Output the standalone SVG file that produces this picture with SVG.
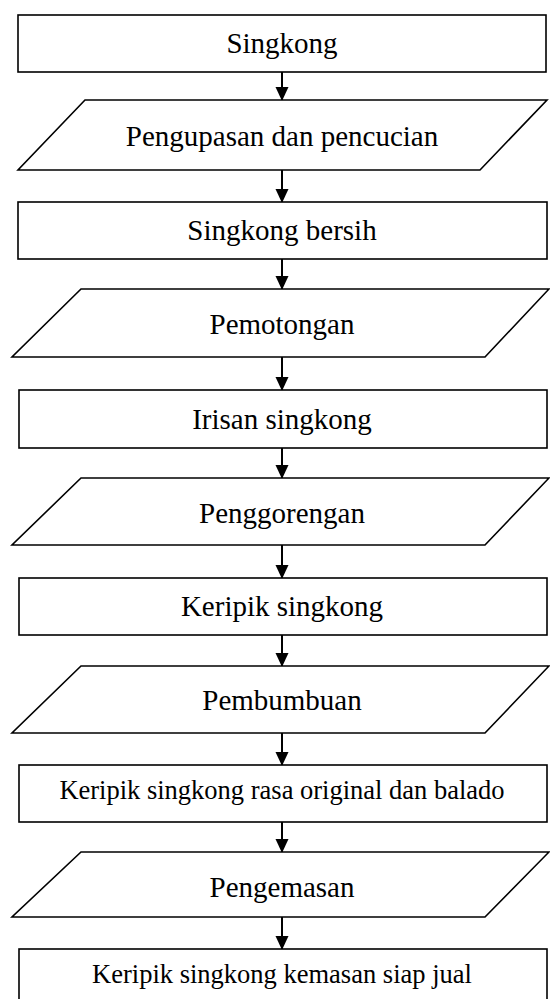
<svg xmlns="http://www.w3.org/2000/svg" width="550" height="999" viewBox="0 0 550 999">
<style>
.box{fill:#fff;stroke:#000;stroke-width:1.6}
.t{font-family:"Liberation Serif","Times New Roman",serif;font-size:29px;fill:#000;text-anchor:middle}
.s{font-size:26.5px}
.c{stroke:#000;stroke-width:2;fill:none}
</style>
<defs>
<marker id="ah" markerWidth="14" markerHeight="15" refX="14" refY="7" orient="auto" markerUnits="userSpaceOnUse" viewBox="0 0 15 14">
<path d="M0,0 L15,7 L0,14 Z" fill="#000"/>
</marker>
</defs>
<g id="connectors">
<line class="c" x1="282" y1="72" x2="282" y2="100" marker-end="url(#ah)"/>
<line class="c" x1="282" y1="170" x2="282" y2="202" marker-end="url(#ah)"/>
<line class="c" x1="282" y1="259" x2="282" y2="289" marker-end="url(#ah)"/>
<line class="c" x1="282" y1="357" x2="282" y2="390" marker-end="url(#ah)"/>
<line class="c" x1="282" y1="448" x2="282" y2="478" marker-end="url(#ah)"/>
<line class="c" x1="282" y1="545" x2="282" y2="578" marker-end="url(#ah)"/>
<line class="c" x1="282" y1="635" x2="282" y2="666" marker-end="url(#ah)"/>
<line class="c" x1="282" y1="733" x2="282" y2="765" marker-end="url(#ah)"/>
<line class="c" x1="282" y1="822" x2="282" y2="852" marker-end="url(#ah)"/>
<line class="c" x1="282" y1="917" x2="282" y2="949" marker-end="url(#ah)"/>
</g>
<g id="n1"><rect class="box" x="18" y="15" width="528" height="57"/><text class="t" x="282" y="53">Singkong</text></g>
<g id="n2"><polygon class="box" points="85,100 547,100 480,170 18,170"/><text class="t" x="282" y="146">Pengupasan dan pencucian</text></g>
<g id="n3"><rect class="box" x="18" y="202" width="529" height="57"/><text class="t" x="282" y="240">Singkong bersih</text></g>
<g id="n4"><polygon class="box" points="81,289 549,289 485,357 12,357"/><text class="t" x="282" y="334">Pemotongan</text></g>
<g id="n5"><rect class="box" x="19" y="390" width="528" height="58"/><text class="t" x="282" y="429">Irisan singkong</text></g>
<g id="n6"><polygon class="box" points="81,478 549,478 485,545 12,545"/><text class="t" x="282" y="523">Penggorengan</text></g>
<g id="n7"><rect class="box" x="19" y="578" width="528" height="57"/><text class="t" x="282" y="616">Keripik singkong</text></g>
<g id="n8"><polygon class="box" points="81,666 549,666 485,733 12,733"/><text class="t" x="282" y="710">Pembumbuan</text></g>
<g id="n9"><rect class="box" x="19" y="765" width="528" height="57"/><text class="t s" x="282" y="799">Keripik singkong rasa original dan balado</text></g>
<g id="n10"><polygon class="box" points="81,852 549,852 485,917 12,917"/><text class="t" x="282" y="897">Pengemasan</text></g>
<g id="n11"><rect class="box" x="19" y="949" width="528" height="60"/><text class="t s" x="282" y="983">Keripik singkong kemasan siap jual</text></g>
</svg>
